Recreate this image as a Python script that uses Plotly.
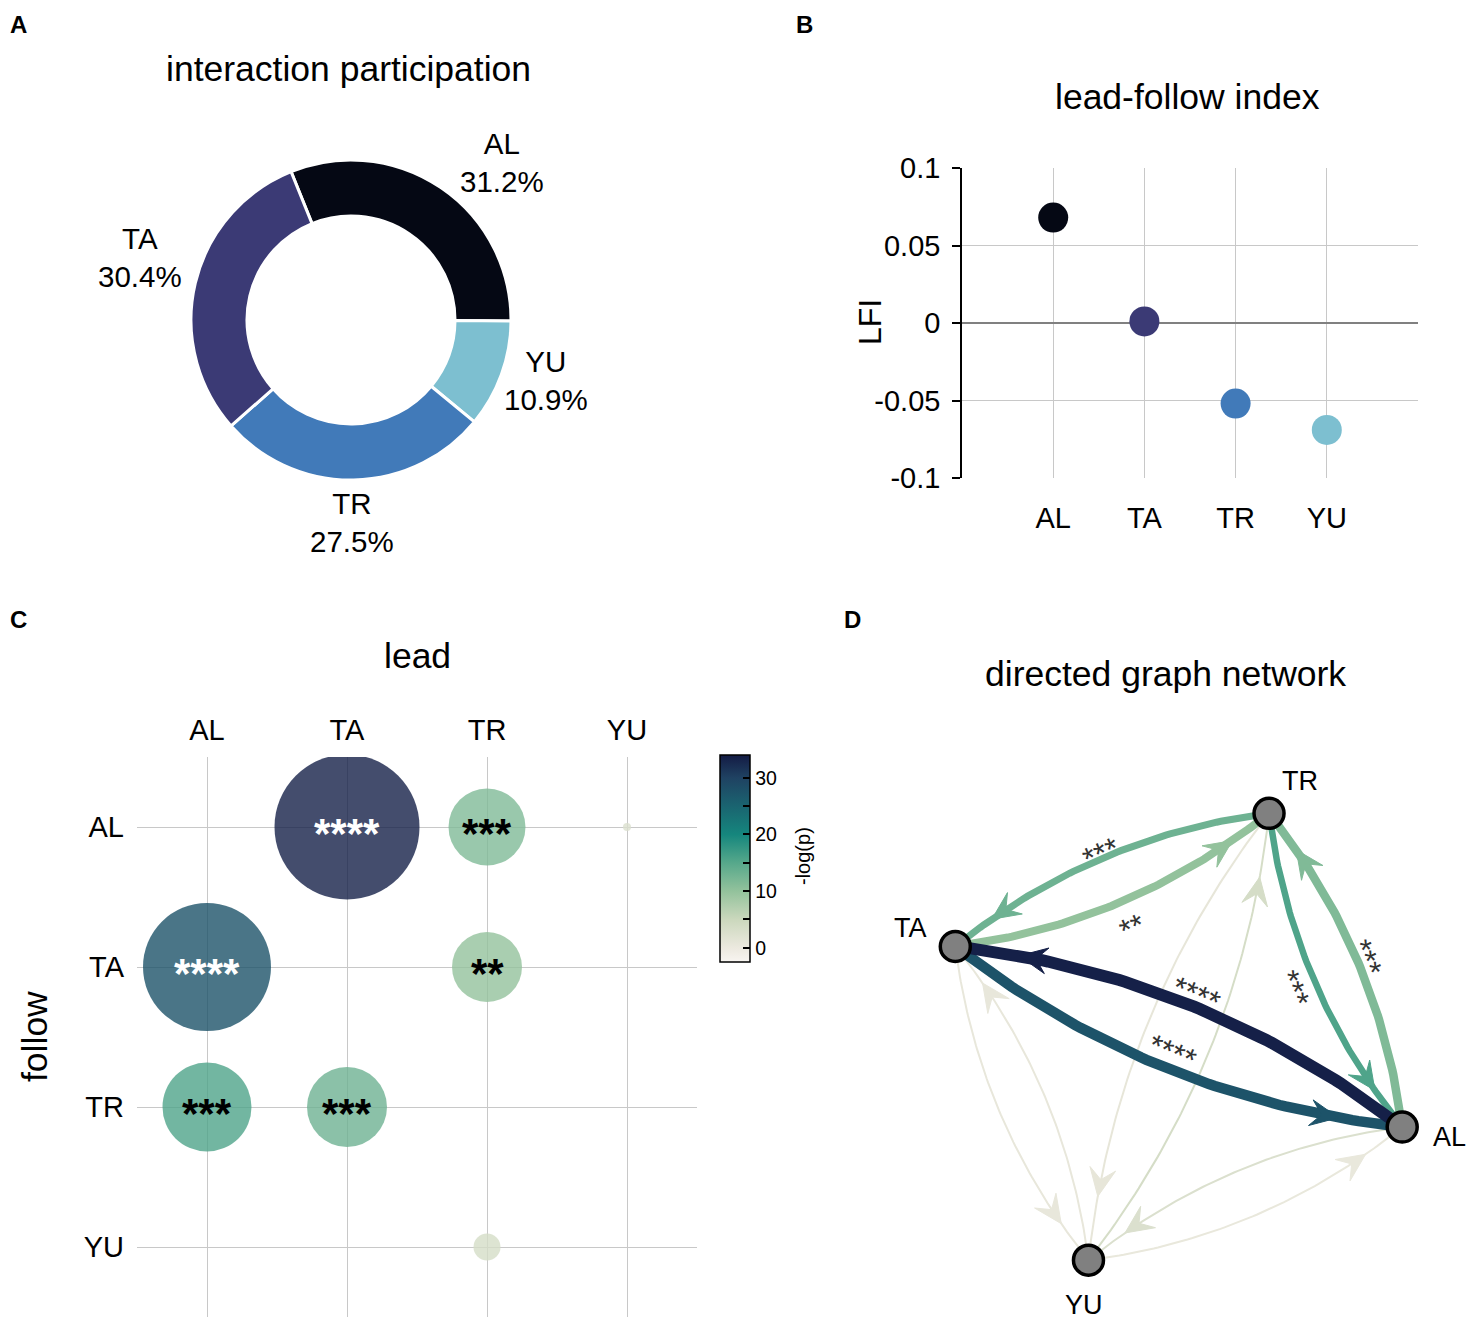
import numpy as np
import plotly.graph_objects as go
from plotly.colors import sample_colorscale

# ---------------- data ----------------
names = ["AL", "TA", "TR", "YU"]
ind_colors = {"AL": "#050814", "TA": "#3b3a75", "TR": "#417ab9", "YU": "#7dbfd0"}

# A: interaction participation (%)
pie_labels = ["AL", "YU", "TR", "TA"]
pie_share = [31.2, 10.9, 27.5, 30.4]

# B: lead-follow index
lfi = [0.068, 0.001, -0.052, -0.069]
lfi_tickvals = [-0.1, -0.05, 0, 0.05, 0.1]
lfi_ticktext = ["-0.1", "-0.05", "0", "0.05", "0.1"]
lfi_gridvals = [-0.05, 0, 0.05]

# C / D: rows = follow, columns = lead
neglogp = [
    [np.nan, 33.5, 11.5, 2.5],
    [27.5, np.nan, 10.0, 0.6],
    [15.5, 13.0, np.nan, 0.8],
    [0.4, 0.6, 3.5, np.nan],
]
bubble_effect = [
    [0.0, 29.0, 15.4, 1.6],
    [25.6, 0.0, 14.0, 0.0],
    [17.8, 16.0, 0.0, 0.0],
    [0.0, 0.0, 5.4, 0.0],
]
stars = [
    ["", "****", "***", ""],
    ["****", "", "**", ""],
    ["***", "***", "", ""],
    ["", "", "", ""],
]
edge_weight = [
    [0, 12.0, 8.5, 2.0],
    [10.5, 0, 8.0, 2.0],
    [6.5, 7.0, 0, 2.0],
    [2.0, 2.0, 2.0, 0],
]
cbar_tickvals = [0, 5, 10, 15, 20, 25, 30]
cbar_ticktext = ["0", "", "10", "", "20", "", "30"]

# ---------------- style ----------------
SW, SH = 1475, 1324           # screen size
OFF = 8                       # default page margin of the html body
W, H = SW - OFF, SH - OFF     # figure size
FONT = "Liberation Sans, Arial, sans-serif"
GRID = "#c8c8c8"
cmin, cmax = -2.5, 34.0
cscale = [[0.0, "#f8f5f1"], [0.068, "#ece9df"], [0.205, "#cbd8bd"], [0.342, "#93c29c"],
          [0.479, "#56a88b"], [0.616, "#15867d"], [0.753, "#1a6470"], [0.890, "#1f4262"],
          [1.0, "#141b44"]]


def px_x(p):
    return (p - OFF) / W


def px_y(p):
    return 1 - (p - OFF) / H


fig = go.Figure()

# ---------------- A: donut ----------------
fig.add_trace(go.Pie(
    labels=pie_labels, values=pie_share, hole=0.65, sort=False,
    direction="clockwise", rotation=-22,
    marker=dict(colors=[ind_colors[n] for n in pie_labels], line=dict(color="white", width=3)),
    textinfo="none", showlegend=False, automargin=False,
    domain=dict(x=[px_x(191), px_x(511)], y=[px_y(480), px_y(160)]),
))

# ---------------- B: LFI ----------------
fig.add_trace(go.Scatter(
    x=names, y=lfi, mode="markers", xaxis="x2", yaxis="y2", showlegend=False,
    marker=dict(size=30, color=[ind_colors[n] for n in names]), cliponaxis=False,
))
# empty trace so that the labelled overlay axis is drawn
fig.add_trace(go.Scatter(x=[], y=[], xaxis="x2", yaxis="y5", showlegend=False, hoverinfo="skip"))

# ---------------- C: bubble matrix ----------------
bx, by, bs, bc = [], [], [], []
for i, fol in enumerate(names):
    for j, lead in enumerate(names):
        if bubble_effect[i][j] > 0:
            bx.append(lead)
            by.append(fol)
            bs.append(bubble_effect[i][j] * 5)
            bc.append(neglogp[i][j])
fig.add_trace(go.Scatter(
    x=bx, y=by, mode="markers", xaxis="x3", yaxis="y3", showlegend=False,
    marker=dict(size=bs, sizemode="diameter", color=bc, colorscale=cscale, cmin=cmin, cmax=cmax,
                opacity=0.8, line=dict(width=0),
                colorbar=dict(
                    x=px_x(720), xanchor="left", y=px_y(858.5), yanchor="middle",
                    len=207, lenmode="pixels", thickness=30, thicknessmode="pixels",
                    outlinewidth=1.5, outlinecolor="black", xpad=0, ypad=0,
                    ticks="inside", ticklen=7, tickwidth=1.5, tickcolor="black",
                    tickvals=cbar_tickvals, ticktext=cbar_ticktext,
                    tickfont=dict(size=19.5, color="black", family=FONT),
                )),
))

annotations = []
star_font = 42
for i in range(4):
    for j in range(4):
        if stars[i][j]:
            v = neglogp[i][j]
            annotations.append(dict(
                x=j, y=i, xref="x3", yref="y3", text="<b>" + stars[i][j] + "</b>", showarrow=False,
                font=dict(size=star_font, color="white" if v > 20 else "black", family=FONT),
                yshift=-0.15 * star_font,
            ))

# ---------------- D: directed graph ----------------
PX = 241.0                      # pixels per layout unit
CX, CY = 1178.75, 1036.75       # layout centre in screen pixels
node_order = ["AL", "TR", "TA", "YU"]
ang = np.deg2rad(-22 + 90 * np.arange(4))
pos = {n: np.array([np.cos(a), np.sin(a)]) for n, a in zip(node_order, ang)}
RAD = 0.14
T_HEAD = 0.87


def bez(p0, p2, t):
    d = p2 - p0
    c = (p0 + p2) / 2 + RAD * np.array([d[1], -d[0]])
    t = np.asarray(t)[..., None]
    return (1 - t) ** 2 * p0 + 2 * (1 - t) * t * c + t ** 2 * p2, c


label_offset_px = {("AL", "TA"): 20, ("TA", "AL"): -25, ("TR", "TA"): 13,
                   ("TA", "TR"): 19, ("TR", "AL"): 13.5, ("AL", "TR"): 17}

edges = []
for i, fol in enumerate(names):
    for j, lead in enumerate(names):
        if i != j:
            edges.append((neglogp[i][j], fol, lead, edge_weight[i][j], stars[i][j]))
edges.sort(key=lambda e: e[0])

EDGE_FONT = 31
tt = np.linspace(0, 1, 80)
for v, src, dst, wgt, st in edges:
    col = sample_colorscale(cscale, [(v - cmin) / (cmax - cmin)])[0]
    p0, p2 = pos[src], pos[dst]
    pts, c = bez(p0, p2, tt)
    fig.add_trace(go.Scatter(x=pts[:, 0], y=pts[:, 1], mode="lines", xaxis="x4", yaxis="y4",
                             line=dict(color=col, width=wgt), hoverinfo="skip", showlegend=False))
    # arrow head
    tip = bez(p0, p2, [T_HEAD])[0][0]
    tang = 2 * (1 - T_HEAD) * (c - p0) + 2 * T_HEAD * (p2 - c)
    tang = tang / np.linalg.norm(tang)
    nrm = np.array([-tang[1], tang[0]])
    L, Wh, Ln = 28 / PX, 13 / PX, 17 / PX
    back = tip - L * tang
    poly = np.array([tip, back + Wh * nrm, tip - Ln * tang, back - Wh * nrm, tip])
    fig.add_trace(go.Scatter(x=poly[:, 0], y=poly[:, 1], mode="lines", fill="toself", fillcolor=col,
                             line=dict(color=col, width=1), xaxis="x4", yaxis="y4",
                             hoverinfo="skip", showlegend=False))
    if st:
        d = p2 - p0
        n_out = np.array([d[1], -d[0]]) / np.linalg.norm(d)
        mid = bez(p0, p2, [0.5])[0][0]
        lp = mid + label_offset_px[(src, dst)] / PX * n_out
        theta = -np.degrees(np.arctan2(d[1], d[0]))
        if theta > 90:
            theta -= 180
        if theta < -90:
            theta += 180
        s = 0.27 * EDGE_FONT
        th = np.radians(theta)
        annotations.append(dict(x=lp[0], y=lp[1], xref="x4", yref="y4", text=st, showarrow=False,
                                textangle=theta, font=dict(size=EDGE_FONT, color="#333333", family=FONT),
                                xshift=-np.sin(th) * s, yshift=-np.cos(th) * s))

fig.add_trace(go.Scatter(
    x=[pos[n][0] for n in names], y=[pos[n][1] for n in names], mode="markers",
    xaxis="x4", yaxis="y4", hoverinfo="skip", showlegend=False,
    marker=dict(size=30, color="#808080", line=dict(color="black", width=3.5)),
))
node_label_shift = {"TR": (31, 32), "TA": (-45, 18), "AL": (47, -10), "YU": (-4, -45)}
for n in names:
    dx, dy = node_label_shift[n]
    annotations.append(dict(x=pos[n][0], y=pos[n][1], xref="x4", yref="y4", text=n, showarrow=False,
                            xshift=dx, yshift=dy, font=dict(size=27, color="black", family=FONT)))


# ---------------- text annotations ----------------
def pann(text, x, y, size, xanchor="center", yanchor="middle", bold=False, angle=0):
    annotations.append(dict(x=px_x(x), y=px_y(y), xref="paper", yref="paper",
                            text=f"<b>{text}</b>" if bold else text,
                            showarrow=False, xanchor=xanchor, yanchor=yanchor, textangle=angle,
                            font=dict(size=size, color="black", family=FONT)))


for letter, (lx, ly) in {"A": (8, 9), "B": (794, 9), "C": (8, 604), "D": (842, 604)}.items():
    pann(letter, lx, ly, 24, xanchor="left", yanchor="top", bold=True)

pann("interaction participation", 348, 69, 35.5)
pann("lead-follow index", 1187, 97, 35.5)
pann("lead", 417, 656, 35.5)
pann("directed graph network", 1165, 674, 35.5)
pann("LFI", 870, 322, 32, angle=-90)
pann("follow", 35, 1037, 35.5, angle=-90)
pann("-log(p)", 803, 856, 20, angle=-90)

pie_label_pos = {"AL": (502, 162), "YU": (546, 380), "TR": (352, 522), "TA": (140, 257)}
for n, val in zip(pie_labels, pie_share):
    x, y = pie_label_pos[n]
    pann(f"{n}<br>{val:.1f}%", x, y, 29.5)

# ---------------- layout ----------------
cx0, cx1 = 870, SW
cy0, cy1 = 740, SH
yB = [px_y(478), px_y(168)]
fig.update_layout(
    width=W, height=H, autosize=False, margin=dict(l=0, r=0, t=0, b=0, autoexpand=False),
    paper_bgcolor="white", plot_bgcolor="white", font=dict(family=FONT, color="black"),
    showlegend=False, annotations=annotations,
    xaxis2=dict(domain=[px_x(962), px_x(1418)], anchor="y2", type="category",
                categoryorder="array", categoryarray=names, range=[-1, 4], automargin=False,
                showgrid=True, gridcolor=GRID, gridwidth=1, zeroline=False, showline=False,
                ticks="", tickfont=dict(size=29), ticklabelstandoff=20),
    yaxis2=dict(domain=yB, anchor="x2", range=[-0.1, 0.1], automargin=False,
                tickvals=lfi_gridvals, showticklabels=False, ticks="",
                showgrid=True, gridcolor=GRID, gridwidth=1,
                zeroline=True, zerolinecolor="#808080", zerolinewidth=1.5, showline=False),
    yaxis5=dict(domain=yB, overlaying="y2", anchor="x2", side="left", range=[-0.1, 0.1],
                automargin=False,
                tickvals=lfi_tickvals, ticktext=lfi_ticktext, showgrid=False, zeroline=False,
                showline=True, linecolor="black", linewidth=1.5, ticks="outside", ticklen=8,
                tickwidth=1.5, tickcolor="black", tickfont=dict(size=29), ticklabelstandoff=6),
    xaxis3=dict(domain=[px_x(137), px_x(697)], anchor="y3", side="top", type="category",
                categoryorder="array", categoryarray=names, range=[-0.5, 3.5], automargin=False,
                showgrid=True, gridcolor=GRID, gridwidth=1, zeroline=False, showline=False,
                ticks="", tickfont=dict(size=29), ticklabelstandoff=10),
    yaxis3=dict(domain=[px_y(1317), px_y(757)], anchor="x3", type="category",
                categoryorder="array", categoryarray=names, range=[3.5, -0.5], automargin=False,
                showgrid=True, gridcolor=GRID, gridwidth=1, zeroline=False, showline=False,
                ticks="", tickfont=dict(size=29), ticklabelstandoff=12),
    xaxis4=dict(domain=[px_x(cx0), px_x(cx1)], anchor="y4", automargin=False,
                range=[(cx0 - CX) / PX, (cx1 - CX) / PX], visible=False),
    yaxis4=dict(domain=[px_y(cy1), px_y(cy0)], anchor="x4", automargin=False,
                range=[(CY - cy1) / PX, (CY - cy0) / PX], visible=False),
)

fig.write_html("out.html", config={"displayModeBar": False})
